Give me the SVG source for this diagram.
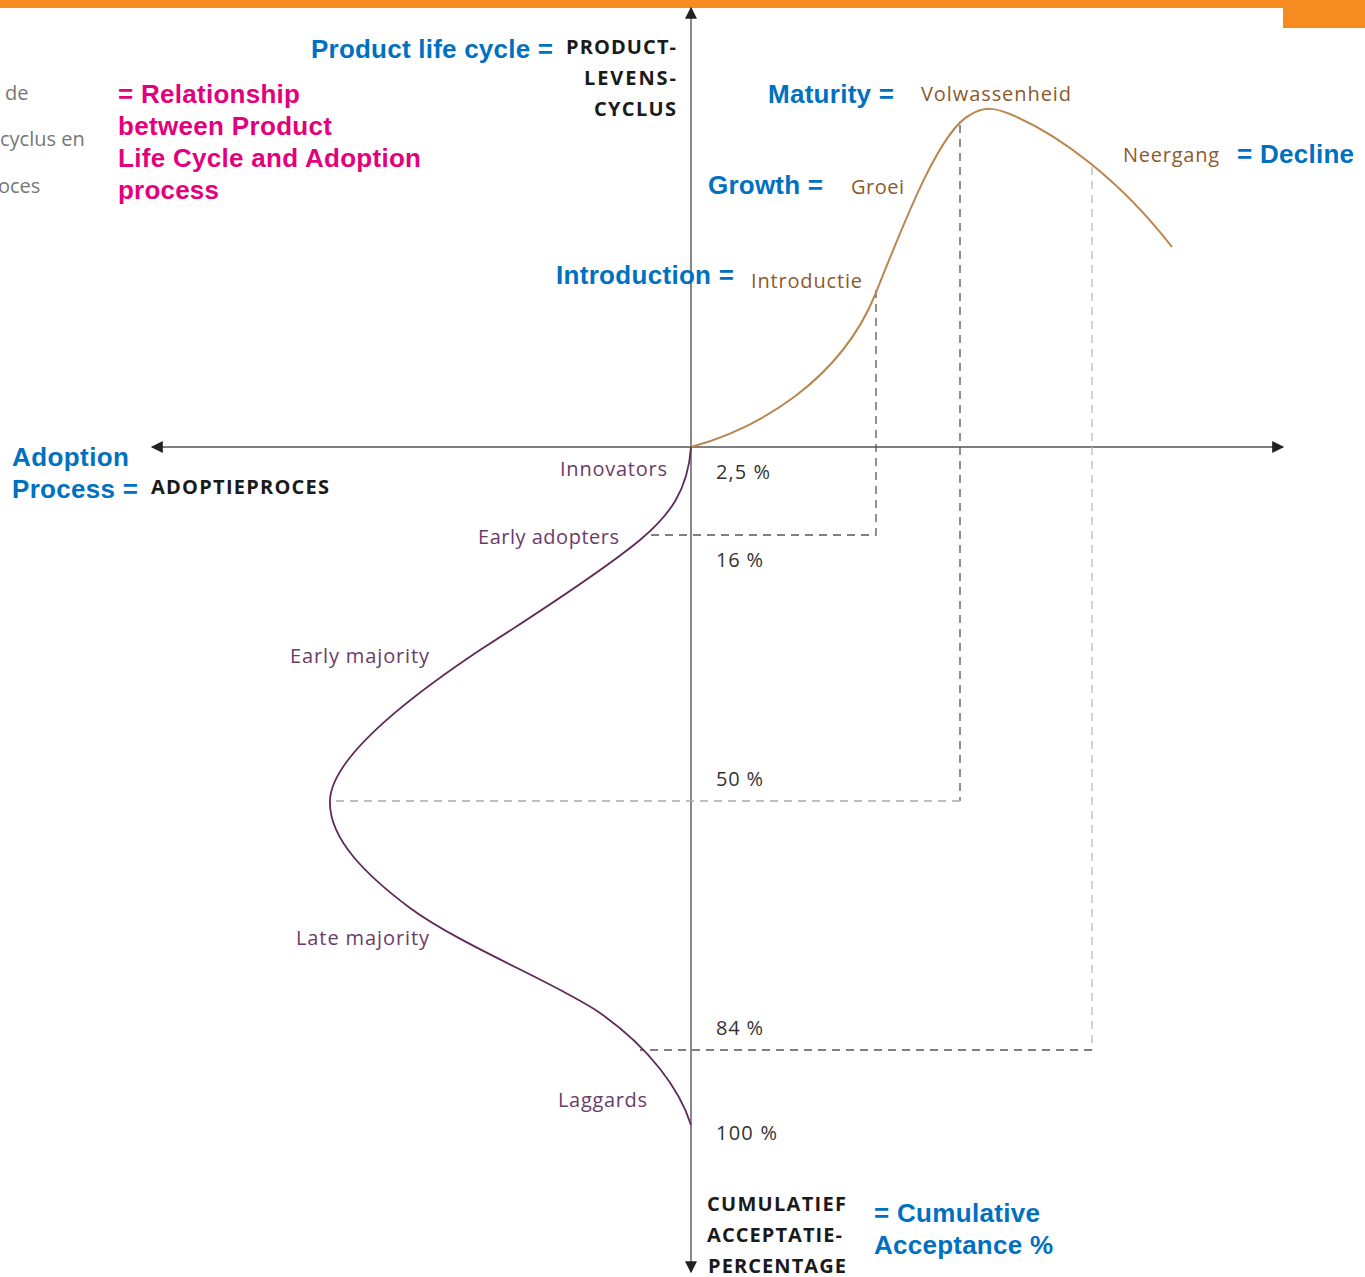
<svg xmlns="http://www.w3.org/2000/svg" width="1365" height="1277" viewBox="0 0 1365 1277">
<style>
.blue{font-family:"Liberation Sans",Arial,sans-serif;font-weight:bold;font-size:26px;fill:#0070C0}
.pink{font-family:"Liberation Sans",Arial,sans-serif;font-weight:bold;font-size:26px;fill:#E4007C}
.cap{font-family:"Open Sans","DejaVu Sans",sans-serif;font-weight:bold;font-size:20px;fill:#1a1a1a}
.brown{font-family:"Open Sans","DejaVu Sans",sans-serif;font-size:20px;fill:#8B5A2B}
.purple{font-family:"Open Sans","DejaVu Sans",sans-serif;font-size:20px;fill:#6A3C68}
.pct{font-family:"Open Sans","DejaVu Sans",sans-serif;font-size:20px;fill:#333}
.gray{font-family:"Open Sans","DejaVu Sans",sans-serif;font-size:20px;fill:#777}
.dash{fill:none;stroke-width:1.3;stroke-dasharray:8 6}
</style>
<defs>
<marker id="arrv" viewBox="0 0 10 10" refX="9" refY="5" markerWidth="15" markerHeight="12" markerUnits="userSpaceOnUse" orient="auto">
<path d="M0,0 L10,5 L0,10 z" fill="#222"/>
</marker>
</defs>
<rect width="1365" height="1277" fill="#fff"/>
<g id="topbar">
<rect x="0" y="0" width="1365" height="8" fill="#F68B1F"/>
<rect x="1283" y="0" width="82" height="28" fill="#F68B1F"/>
</g>
<g id="connectors">
<line x1="691" y1="1272" x2="691" y2="8" stroke="#888" stroke-width="2" marker-end="url(#arrv)"/>
<line x1="691" y1="22" x2="691" y2="1272" stroke="#888" stroke-width="2" marker-end="url(#arrv)"/>
<line x1="691" y1="447" x2="152" y2="447" stroke="#555" stroke-width="1.5" marker-end="url(#arrv)"/>
<line x1="691" y1="447" x2="1283" y2="447" stroke="#555" stroke-width="1.5" marker-end="url(#arrv)"/>
<path class="dash" stroke="#555" d="M876,290 V535 H645"/>
<path class="dash" stroke="#555" d="M960,125 V801"/>
<path class="dash" stroke="#aaa" d="M960,801 H330"/>
<path class="dash" stroke="#bbb" d="M1092,167 V1050"/>
<path class="dash" stroke="#555" d="M1092,1050 H640"/>
<path fill="none" stroke="#B8864E" stroke-width="2" d="M691,447 C760,428 840,380 875,295 C905,220 940,130 970,115 C985,106 995,108 1010,114 C1060,135 1120,180 1172,247"/>
<path fill="none" stroke="#5E2A58" stroke-width="1.8" d="M691,447 C688,490 670,515 640,540 C600,573 530,618 480,650 C420,690 332,755 330,800 C328,840 370,878 410,908 C460,945 560,985 600,1013 C650,1048 680,1090 691,1125"/>
</g>
<g id="left-fragment">
<text class="gray" x="5" y="100">de</text>
<text class="gray" x="0" y="146">cyclus en</text>
<text class="gray" x="-2" y="193">oces</text>
</g>
<g id="title">
<text class="pink" x="118" y="103" textLength="182">= Relationship</text>
<text class="pink" x="118" y="135" textLength="214">between Product</text>
<text class="pink" x="118" y="167" textLength="303">Life Cycle and Adoption</text>
<text class="pink" x="118" y="199" textLength="101">process</text>
</g>
<g id="plc-label">
<text class="blue" x="311" y="58" textLength="242">Product life cycle =</text>
<text class="cap" x="676" y="54" text-anchor="end" textLength="110">PRODUCT-</text>
<text class="cap" x="676" y="85" text-anchor="end" textLength="92">LEVENS-</text>
<text class="cap" x="676" y="116" text-anchor="end" textLength="82">CYCLUS</text>
</g>
<g id="maturity">
<text class="blue" x="768" y="103" textLength="126">Maturity =</text>
<text class="brown" x="921" y="101" textLength="150">Volwassenheid</text>
</g>
<g id="growth">
<text class="blue" x="708" y="194" textLength="115">Growth =</text>
<text class="brown" x="851" y="194" textLength="53">Groei</text>
</g>
<g id="introduction">
<text class="blue" x="556" y="284" textLength="178">Introduction =</text>
<text class="brown" x="751" y="288" textLength="111">Introductie</text>
</g>
<g id="decline">
<text class="brown" x="1123" y="162" textLength="96">Neergang</text>
<text class="blue" x="1237" y="163" textLength="117">= Decline</text>
</g>
<g id="adoption-label">
<text class="blue" x="12" y="466" textLength="117">Adoption</text>
<text class="blue" x="12" y="498" textLength="126">Process =</text>
<text class="cap" x="151" y="494" textLength="178">ADOPTIEPROCES</text>
</g>
<g id="groups">
<text class="purple" x="560" y="476" textLength="107">Innovators</text>
<text class="purple" x="478" y="544" textLength="141">Early adopters</text>
<text class="purple" x="290" y="663" textLength="139">Early majority</text>
<text class="purple" x="296" y="945" textLength="133">Late majority</text>
<text class="purple" x="558" y="1107" textLength="89">Laggards</text>
</g>
<g id="percentages">
<text class="pct" x="716" y="479" textLength="54">2,5 %</text>
<text class="pct" x="716" y="567" textLength="47">16 %</text>
<text class="pct" x="716" y="786" textLength="47">50 %</text>
<text class="pct" x="716" y="1035" textLength="47">84 %</text>
<text class="pct" x="716" y="1140" textLength="61">100 %</text>
</g>
<g id="cumulative">
<text class="cap" x="707" y="1211" textLength="139">CUMULATIEF</text>
<text class="cap" x="707" y="1242" textLength="135">ACCEPTATIE-</text>
<text class="cap" x="708" y="1273" textLength="138">PERCENTAGE</text>
<text class="blue" x="874" y="1222" textLength="166">= Cumulative</text>
<text class="blue" x="874" y="1254" textLength="179">Acceptance %</text>
</g>
</svg>
